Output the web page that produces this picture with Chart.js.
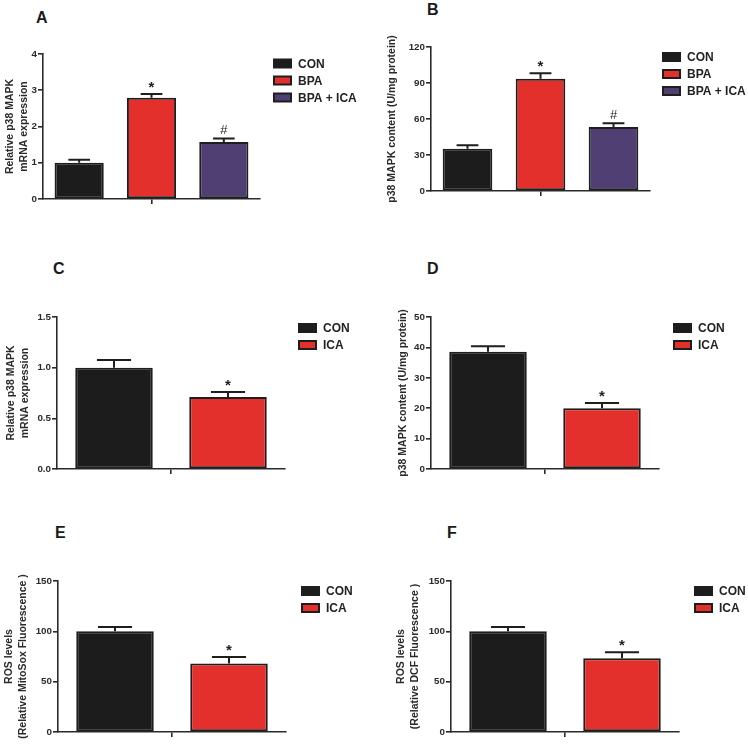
<!DOCTYPE html>
<html>
<head>
<meta charset="utf-8">
<script src="https://cdn.jsdelivr.net/npm/chart.js@4.4.0/dist/chart.umd.min.js"></script>
<style>
body { margin: 0; background: #fff; }
#fig { position: relative; width: 748px; height: 749px; overflow: hidden; }
.panel { position: absolute; }
.letter { position: absolute; font: bold 16px "Liberation Sans", Arial, sans-serif; line-height: 16px; color: #1a1a1a; }
</style>
</head>
<body>
<div id="fig">
  <div class="letter" style="left:36px;top:10px">A</div>
  <div class="letter" style="left:427px;top:2px">B</div>
  <div class="letter" style="left:53px;top:261px">C</div>
  <div class="letter" style="left:427px;top:261px">D</div>
  <div class="letter" style="left:55px;top:525px">E</div>
  <div class="letter" style="left:447px;top:525px">F</div>
  <canvas id="chartA" class="panel" width="374" height="180" style="left:0;top:30px"></canvas>
  <canvas id="chartB" class="panel" width="374" height="180" style="left:374px;top:25px"></canvas>
  <canvas id="chartC" class="panel" width="374" height="190" style="left:0;top:290px"></canvas>
  <canvas id="chartD" class="panel" width="374" height="190" style="left:374px;top:290px"></canvas>
  <canvas id="chartE" class="panel" width="374" height="190" style="left:0;top:555px"></canvas>
  <canvas id="chartF" class="panel" width="374" height="190" style="left:374px;top:555px"></canvas>
</div>
<script>
// groups
var groupsABC = ['CON', 'BPA', 'BPA + ICA'];
var groupsICA = ['CON', 'ICA'];

// A: relative p38 MAPK mRNA (BPA study)
var meanA = [1.0, 2.79, 1.57];
var semA = [0.08, 0.11, 0.10];
var markA = ['', '*', '#'];
var ticksA = [0, 1, 2, 3, 4];

// B: p38 MAPK content (BPA study)
var meanB = [35.3, 93.5, 53.4];
var semB = [2.8, 4.7, 3.1];
var markB = ['', '*', '#'];
var ticksB = [0, 30, 60, 90, 120];

// C: relative p38 MAPK mRNA (ICA)
var meanC = [1.0, 0.71];
var semC = [0.075, 0.05];
var markC = ['', '*'];
var ticksC = [0.0, 0.5, 1.0, 1.5];

// D: p38 MAPK content (ICA)
var meanD = [38.6, 20.0];
var semD = [1.8, 1.7];
var markD = ['', '*'];
var ticksD = [0, 10, 20, 30, 40, 50];

// E: ROS, MitoSox
var meanE = [100, 68];
var semE = [4.3, 6.5];
var markE = ['', '*'];
var ticksE = [0, 50, 100, 150];

// F: ROS, DCF
var meanF = [100, 73.2];
var semF = [4.4, 6.0];
var markF = ['', '*'];
var ticksF = [0, 50, 100, 150];

var colors3 = ['#1c1c1c', '#e3302c', '#4f3f72'];
var colors2 = ['#1c1c1c', '#e3302c'];
var FONT = '"Liberation Sans", Arial, sans-serif';
var INK = '#1e1e1e';

var errorBars = {
  id: 'errorBars',
  afterDatasetsDraw: function(chart) {
    var ctx = chart.ctx, y = chart.scales.y;
    ctx.save();
    ctx.strokeStyle = INK;
    ctx.fillStyle = INK;
    ctx.lineWidth = 2;
    chart.data.datasets.forEach(function(ds, i) {
      var bar = chart.getDatasetMeta(i).data[0];
      var top = y.getPixelForValue(ds.data[0] + ds.sem);
      var half = bar.width * 0.22;
      ctx.beginPath();
      ctx.moveTo(bar.x, bar.y);
      ctx.lineTo(bar.x, top);
      ctx.moveTo(bar.x - half, top);
      ctx.lineTo(bar.x + half, top);
      ctx.stroke();
      if (ds.mark) {
        ctx.textAlign = 'center';
        ctx.textBaseline = 'alphabetic';
        if (ds.mark === '*') {
          ctx.font = 'bold 15px ' + FONT;
          ctx.fillText(ds.mark, bar.x, top - 2);
        } else {
          ctx.font = '13px ' + FONT;
          ctx.fillText(ds.mark, bar.x, top - 4);
        }
      }
    });
    ctx.restore();
  }
};

var sideLegend = {
  id: 'sideLegend',
  afterDraw: function(chart, args, opts) {
    var ctx = chart.ctx, area = chart.chartArea;
    ctx.save();
    ctx.font = 'bold 12px ' + FONT;
    ctx.textBaseline = 'middle';
    ctx.textAlign = 'left';
    chart.data.datasets.forEach(function(ds, i) {
      var x = area.right + opts.dx;
      var cy = area.top + opts.dy + i * 17;
      ctx.fillStyle = INK;
      ctx.fillRect(x, cy - 5, 19, 10);
      ctx.fillStyle = ds.backgroundColor;
      ctx.fillRect(x + 2, cy - 3, 15, 6);
      ctx.fillStyle = '#222';
      ctx.fillText(ds.label, x + 25, cy + 1);
    });
    ctx.restore();
  }
};

function makePanel(id, groups, means, sems, marks, colors, ticks, dec, title, g) {
  var datasets = groups.map(function(name, i) {
    return {
      label: name,
      data: [means[i]],
      sem: sems[i],
      mark: marks[i],
      backgroundColor: colors[i],
      borderColor: INK,
      borderWidth: 2,
      borderSkipped: false,
      barPercentage: 0.68,
      categoryPercentage: 1.0
    };
  });
  return new Chart(document.getElementById(id), {
    type: 'bar',
    data: { labels: [''], datasets: datasets },
    options: {
      responsive: false,
      animation: false,
      layout: { padding: { left: 0, top: g.top, right: g.right, bottom: 0 } },
      plugins: {
        legend: { display: false },
        tooltip: { enabled: false },
        sideLegend: { dx: g.dx, dy: g.dy }
      },
      scales: {
        x: {
          offset: true,
          grid: { display: true, drawOnChartArea: false, offset: false, tickLength: 5, color: '#2a2a2a', lineWidth: 1.6 },
          border: { color: '#2a2a2a', width: 1.6 },
          ticks: { padding: 0, font: { size: 9 } },
          afterFit: function(s) { s.height = g.xh; }
        },
        y: {
          min: ticks[0],
          max: ticks[ticks.length - 1],
          afterBuildTicks: function(s) { s.ticks = ticks.map(function(v) { return { value: v }; }); },
          grid: { display: true, drawOnChartArea: false, tickLength: 5, color: '#2a2a2a', lineWidth: 1.6 },
          border: { color: '#2a2a2a', width: 1.6 },
          ticks: {
            color: '#2a2a2a',
            padding: 1,
            font: { family: FONT, size: 9.8, weight: 'bold' },
            callback: function(v) { return Number(v).toFixed(dec); }
          },
          title: {
            display: true,
            text: title,
            color: '#2a2a2a',
            font: { family: FONT, size: 10.5, weight: 'bold', lineHeight: 1.3 },
            padding: { top: g.tp, bottom: 0 }
          },
          afterFit: function(s) { s.width = g.yw; }
        }
      }
    },
    plugins: [errorBars, sideLegend]
  });
}

makePanel('chartA', groupsABC, meanA, semA, markA, colors3, ticksA, 0,
  ['Relative p38 MAPK', 'mRNA expression'],
  { top: 24, right: 114, xh: 11, yw: 43, tp: 3.2, dx: 13, dy: 9.5 });
makePanel('chartB', groupsABC, meanB, semB, markB, colors3, ticksB, 0,
  'p38 MAPK content (U/mg protein)',
  { top: 22, right: 98, xh: 14, yw: 57, tp: 11.2, dx: 12, dy: 10 });
makePanel('chartC', groupsICA, meanC, semC, markC, colors2, ticksC, 1,
  ['Relative p38 MAPK', 'mRNA expression'],
  { top: 27, right: 89, xh: 11, yw: 57, tp: 4.2, dx: 13, dy: 11 });
makePanel('chartD', groupsICA, meanD, semD, markD, colors2, ticksD, 0,
  'p38 MAPK content (U/mg protein)',
  { top: 27, right: 89, xh: 11, yw: 57, tp: 22.2, dx: 14, dy: 11 });
makePanel('chartE', groupsICA, meanE, semE, markE, colors2, ticksE, 0,
  ['ROS levels', '(Relative MitoSox Fluorescence )'],
  { top: 26, right: 88, xh: 13, yw: 58, tp: 2.2, dx: 15, dy: 10 });
makePanel('chartF', groupsICA, meanF, semF, markF, colors2, ticksF, 0,
  ['ROS levels', '(Relative DCF Fluorescence )'],
  { top: 26, right: 69, xh: 13, yw: 77, tp: 20.2, dx: 15, dy: 10 });
</script>
</body>
</html>
